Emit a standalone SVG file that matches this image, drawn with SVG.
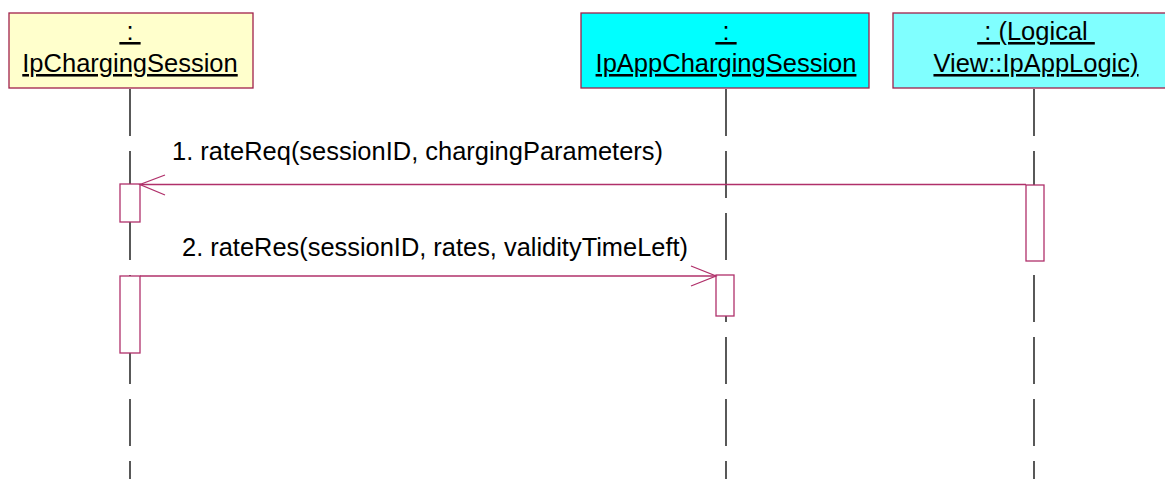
<svg xmlns="http://www.w3.org/2000/svg" width="1165" height="479" viewBox="0 0 1165 479">
<style>
.obj{stroke:#A0204A;stroke-width:1.3}
.hdr{font-family:"Liberation Sans",Arial,sans-serif;font-size:25.5px;fill:#000;text-anchor:middle;text-decoration:underline}
.life{stroke:#000;stroke-width:1.3;stroke-dasharray:47 15;fill:none}
.act{fill:#fff;stroke:#B0306A;stroke-width:1.3}
.msg{stroke:#B0306A;stroke-width:1.3;fill:none}
.lbl{font-family:"Liberation Sans",Arial,sans-serif;font-size:25.5px;fill:#000}
</style>
<rect width="1165" height="479" fill="#fff"/>
<g id="lifelines">
<line class="life" x1="130" y1="89" x2="130" y2="479"/>
<line class="life" x1="726" y1="89" x2="726" y2="479"/>
<line class="life" x1="1034" y1="89" x2="1034" y2="479"/>
</g>
<g id="IpChargingSession">
<rect class="obj" x="9" y="13" width="244" height="75" fill="#FFFFCC"/>
<text class="hdr" x="130" y="40" xml:space="preserve"> : </text>
<text class="hdr" x="130" y="72">IpChargingSession</text>
</g>
<g id="IpAppChargingSession">
<rect class="obj" x="581" y="13" width="288" height="75" fill="#00FFFF"/>
<text class="hdr" x="726" y="40" xml:space="preserve"> : </text>
<text class="hdr" x="726" y="72">IpAppChargingSession</text>
</g>
<g id="IpAppLogic">
<rect class="obj" x="893" y="13" width="282" height="75" fill="#80FFFF"/>
<text class="hdr" x="1036" y="40" xml:space="preserve"> : (Logical </text>
<text class="hdr" x="1036" y="72">View::IpAppLogic)</text>
</g>
<g id="activations">
<rect class="act" x="120" y="184" width="20" height="38"/>
<rect class="act" x="120" y="276" width="20" height="77"/>
<rect class="act" x="716" y="275" width="18" height="41"/>
<rect class="act" x="1026" y="185" width="18" height="76"/>
</g>
<g id="connectors">
<line class="msg" x1="1026" y1="184.5" x2="140" y2="184.5"/>
<polyline class="msg" points="165,175 140,184.5 165,195"/>
<line class="msg" x1="140" y1="276" x2="716" y2="276"/>
<polyline class="msg" points="691,266 716,276 691,286"/>
<text class="lbl" x="172" y="160" textLength="491" lengthAdjust="spacingAndGlyphs">1. rateReq(sessionID, chargingParameters)</text>
<text class="lbl" x="182" y="256" textLength="506" lengthAdjust="spacingAndGlyphs">2. rateRes(sessionID, rates, validityTimeLeft)</text>
</g>
</svg>
